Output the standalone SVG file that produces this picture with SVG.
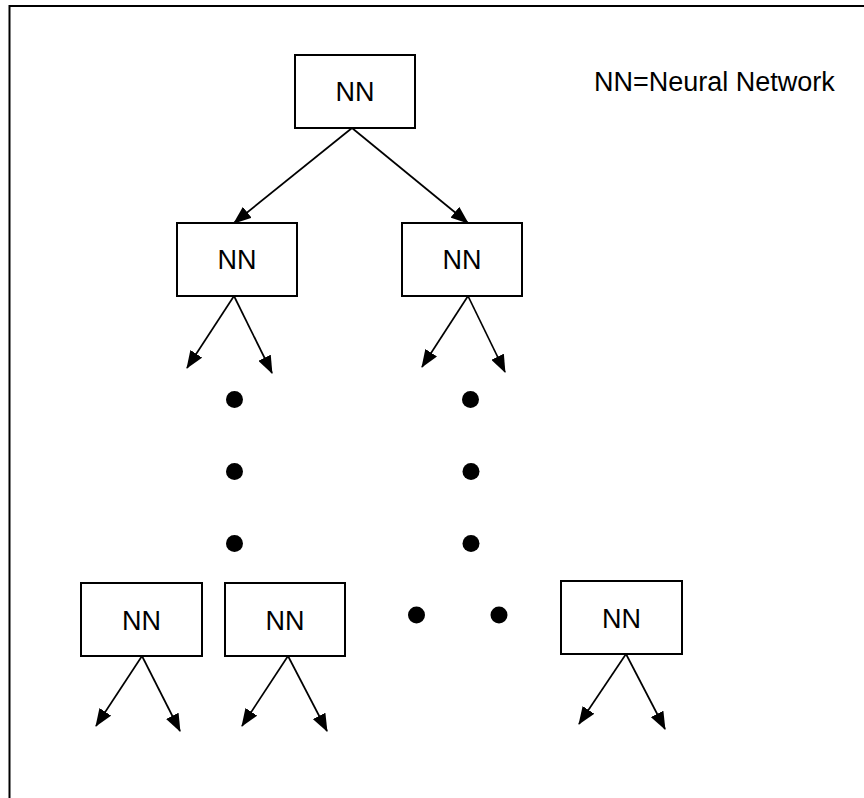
<svg xmlns="http://www.w3.org/2000/svg" width="864" height="798" viewBox="0 0 864 798">
<style>
.box{fill:#fff;stroke:#000;stroke-width:2}
.lbl{font-family:"Liberation Sans",Arial,sans-serif;font-size:27px;fill:#000;text-anchor:middle}
.edge{stroke:#000;stroke-width:1.7;fill:none;marker-end:url(#ah)}
.dot{fill:#000}
</style>
<defs>
<marker id="ah" markerUnits="userSpaceOnUse" markerWidth="18" markerHeight="14" viewBox="0 0 18 14" refX="17" refY="7" orient="auto">
<path d="M0,0 L18,7 L0,14 Z" fill="#000"/>
</marker>
</defs>
<rect width="864" height="798" fill="#fff"/>
<path d="M9.5,798 V6 H864" fill="none" stroke="#000" stroke-width="2"/>
<text class="lbl" x="594" y="90.5" style="text-anchor:start">NN=Neural Network</text>
<g id="nn-top"><rect class="box" x="295" y="55" width="120" height="73"/><text class="lbl" x="355" y="101">NN</text></g>
<g id="nn-left"><rect class="box" x="177" y="223" width="120" height="73"/><text class="lbl" x="237" y="269">NN</text></g>
<g id="nn-right"><rect class="box" x="402" y="223" width="120" height="73"/><text class="lbl" x="462" y="269">NN</text></g>
<g id="nn-b1"><rect class="box" x="81" y="583" width="121" height="73"/><text class="lbl" x="141.5" y="630">NN</text></g>
<g id="nn-b2"><rect class="box" x="225" y="583" width="120" height="73"/><text class="lbl" x="285" y="630">NN</text></g>
<g id="nn-b3"><rect class="box" x="561" y="581" width="121" height="73"/><text class="lbl" x="621.5" y="628">NN</text></g>
<g id="dots">
<circle class="dot" cx="234.5" cy="399.5" r="8.5"/>
<circle class="dot" cx="234.5" cy="471.5" r="8.5"/>
<circle class="dot" cx="234.5" cy="543.5" r="8.5"/>
<circle class="dot" cx="470.5" cy="399.5" r="8.5"/>
<circle class="dot" cx="471" cy="471.5" r="8.5"/>
<circle class="dot" cx="471" cy="543.5" r="8.5"/>
<circle class="dot" cx="416.5" cy="615" r="8.5"/>
<circle class="dot" cx="499" cy="615" r="8.5"/>
</g>
<g id="connectors">
<line class="edge" x1="352" y1="128" x2="234" y2="223"/>
<line class="edge" x1="352" y1="128" x2="468" y2="223"/>
<line class="edge" x1="234" y1="296" x2="187" y2="368"/>
<line class="edge" x1="234" y1="296" x2="272" y2="373"/>
<line class="edge" x1="468" y1="296" x2="422" y2="367"/>
<line class="edge" x1="468" y1="296" x2="505" y2="372"/>
<line class="edge" x1="142" y1="656" x2="96" y2="726"/>
<line class="edge" x1="142" y1="656" x2="180" y2="731"/>
<line class="edge" x1="288" y1="656" x2="242" y2="726"/>
<line class="edge" x1="288" y1="656" x2="327" y2="731"/>
<line class="edge" x1="626" y1="654" x2="579" y2="724"/>
<line class="edge" x1="626" y1="654" x2="665" y2="729"/>
</g>
</svg>
